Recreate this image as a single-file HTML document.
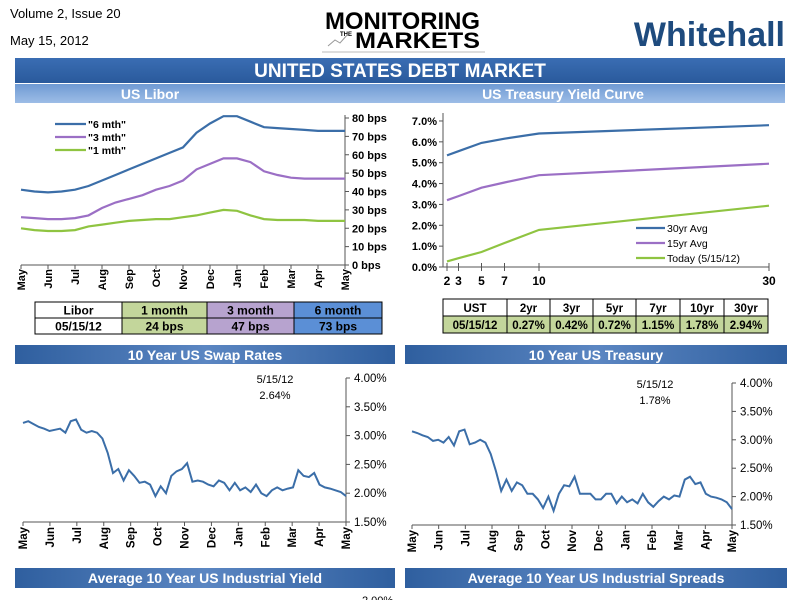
<!DOCTYPE html>
<html><head><meta charset="utf-8"><style>
body{margin:0;background:#fff;}
svg{display:block;font-family:"Liberation Sans",sans-serif;}
.b{font-weight:bold;}
</style></head><body>
<svg id="s" width="800" height="600" viewBox="0 0 800 600">
<defs>
<linearGradient id="gMain" x1="0" y1="0" x2="0" y2="1"><stop offset="0" stop-color="#3a6db3"/><stop offset="1" stop-color="#2a5a9c"/></linearGradient>
<linearGradient id="gSub" x1="0" y1="0" x2="0" y2="1"><stop offset="0" stop-color="#6f9ad3"/><stop offset="1" stop-color="#9dbde6"/></linearGradient>
<linearGradient id="gSec" x1="0" y1="0" x2="1" y2="0"><stop offset="0" stop-color="#2f5f9f"/><stop offset="0.5" stop-color="#5b86c2"/><stop offset="1" stop-color="#2f5f9f"/></linearGradient>
</defs>
<text x="10" y="18" font-size="13">Volume 2, Issue 20</text>
<text x="10" y="45" font-size="13">May 15, 2012</text>
<g>
<text x="325" y="29" font-size="24" class="b" textLength="155" lengthAdjust="spacingAndGlyphs">MONITORING</text>
<text x="340" y="36" font-size="6" class="b">THE</text>
<text x="355" y="48" font-size="22" class="b" textLength="125" lengthAdjust="spacingAndGlyphs">MARKETS</text>
<polyline points="328,46 335,40 340,43 348,34" fill="none" stroke="#999" stroke-width="1"/>
<line x1="322" y1="52" x2="485" y2="52" stroke="#bbb"/>
</g>
<text x="785" y="46" font-size="34" class="b" fill="#1e4b7e" text-anchor="end">Whitehall</text>
<rect x="15" y="58" width="770" height="25" fill="url(#gMain)"/>
<text x="400" y="77" font-size="19" class="b" fill="#fff" text-anchor="middle">UNITED STATES DEBT MARKET</text>
<rect x="15" y="84" width="770" height="19" fill="url(#gSub)"/>
<text x="150" y="99" font-size="14" class="b" fill="#fff" text-anchor="middle">US Libor</text>
<text x="563" y="99" font-size="14" class="b" fill="#fff" text-anchor="middle">US Treasury Yield Curve</text>
<rect x="15" y="345" width="380" height="19" fill="url(#gSec)"/>
<text x="205" y="360" font-size="14" class="b" fill="#fff" text-anchor="middle">10 Year US Swap Rates</text>
<rect x="405" y="345" width="382" height="19" fill="url(#gSec)"/>
<text x="596" y="360" font-size="14" class="b" fill="#fff" text-anchor="middle">10 Year US Treasury</text>
<rect x="15" y="568" width="380" height="20" fill="url(#gSec)"/>
<text x="205" y="583" font-size="14" class="b" fill="#fff" text-anchor="middle">Average 10 Year US Industrial Yield</text>
<rect x="405" y="568" width="382" height="20" fill="url(#gSec)"/>
<text x="596" y="583" font-size="14" class="b" fill="#fff" text-anchor="middle">Average 10 Year US Industrial Spreads</text>
<text x="362" y="604" font-size="11">2.00%</text>
<g id="libG"></g><g id="ycG"></g><g id="swG"></g><g id="tsG"></g>
</svg>
<script>
const months=['May','Jun','Jul','Aug','Sep','Oct','Nov','Dec','Jan','Feb','Mar','Apr','May'];
const liborTicks=['0 bps','10 bps','20 bps','30 bps','40 bps','50 bps','60 bps','70 bps','80 bps'];
const libor6=[41,40,39.5,40,41,43,46,49,52,55,58,61,64,72,77,81,81,78,75,74.5,74,73.5,73,73,73];
const libor3=[26,25.5,25,25,25.5,27,31,34,36,38,41,43,46,52,55,58,58,56,51,49,47.5,47,47,47,47];
const libor1=[20,19,18.5,18.5,19,21,22,23,24,24.5,25,25,26,27,28.5,30,29.5,27,25,24.5,24.5,24.5,24,24,24];
const liborHead=['Libor','1 month','3 month','6 month'];
const liborRow=['05/15/12','24 bps','47 bps','73 bps'];
const ycTenors=[2,3,5,7,10,30];
const yc30=[5.35,5.55,5.95,6.15,6.4,6.8];
const yc15=[3.2,3.4,3.8,4.05,4.4,4.95];
const ycToday=[0.27,0.42,0.72,1.15,1.78,2.94];
const ycTicks=[0,1,2,3,4,5,6,7];
const ustHead=['UST','2yr','3yr','5yr','7yr','10yr','30yr'];
const ustRow=['05/15/12','0.27%','0.42%','0.72%','1.15%','1.78%','2.94%'];
const rateTicks=[1.5,2,2.5,3,3.5,4];
const swapVals=[3.22,3.25,3.20,3.15,3.12,3.08,3.10,3.12,3.05,3.25,3.28,3.10,3.05,3.08,3.05,2.95,2.70,2.35,2.42,2.22,2.40,2.30,2.18,2.20,2.15,1.95,2.12,2.00,2.30,2.38,2.42,2.52,2.20,2.22,2.20,2.15,2.12,2.22,2.18,2.05,2.18,2.05,2.10,2.02,2.15,2.00,1.95,2.05,2.10,2.05,2.08,2.10,2.40,2.30,2.28,2.35,2.15,2.10,2.08,2.05,2.02,1.95];
const tsyVals=[3.15,3.12,3.08,3.05,2.98,3.00,2.95,3.05,2.90,3.15,3.18,2.92,2.95,3.00,2.95,2.75,2.45,2.10,2.30,2.10,2.25,2.20,2.05,2.05,1.95,1.80,2.00,1.75,2.05,2.20,2.18,2.35,2.05,2.05,2.05,1.95,1.95,2.05,2.05,1.88,2.00,1.90,1.95,1.88,2.05,1.90,1.82,1.92,2.00,1.95,2.02,2.00,2.30,2.35,2.22,2.25,2.05,2.00,1.98,1.95,1.90,1.78];

const NS='http://www.w3.org/2000/svg';
function mk(parent,tag,attrs,txt){const e=document.createElementNS(NS,tag);for(const k in attrs)e.setAttribute(k,attrs[k]);if(txt!==undefined)e.textContent=txt;parent.appendChild(e);return e;}
function pts(vals,fx,fy){return vals.map((v,i)=>fx(i).toFixed(1)+','+fy(v).toFixed(1)).join(' ');}

// ---- Libor
const lib=document.getElementById('libG');
const libX=i=>21+i*324/(libor6.length-1), libY=v=>265-v*1.8375, mX=i=>21+i*27;
let a=mk(lib,'line',{x1:345,y1:libY(80)-3,x2:345,y2:265,stroke:'#555'});


a=mk(lib,'line',{x1:21,y1:265,x2:345,y2:265,stroke:'#555'});


liborTicks.forEach((t,i)=>{const v=i*10;
 mk(lib,'line',{x1:345,y1:libY(v),x2:349,y2:libY(v),stroke:'#555'});
 const e=mk(lib,'text',{x:352,y:libY(v)+4,'font-size':11,'font-weight':'bold'},t);
 
 });
months.forEach((m,i)=>{
 mk(lib,'line',{x1:mX(i),y1:265,x2:mX(i),y2:269,stroke:'#555'});
 const e=mk(lib,'text',{x:0,y:0,'font-size':11,'font-weight':'bold','text-anchor':'end',transform:`translate(${mX(i)+4},269) rotate(-90)`},m);
 
 });
[[libor6,'#3b6ea8','6 mth'],[libor3,'#9b6fc5','3 mth'],[libor1,'#8fc441','1 mth']].forEach((s,k)=>{
 const p=mk(lib,'polyline',{points:pts(s[0],libX,libY),fill:'none',stroke:s[1],'stroke-width':2.2});
 
 
 const y=124+k*13;
 mk(lib,'line',{x1:55,y1:y,x2:86,y2:y,stroke:s[1],'stroke-width':2.2});
 const t=mk(lib,'text',{x:88,y:y+4,'font-size':10.5,'font-weight':'bold'},'"'+s[2]+'"');
 
 });
const lc=[35,122,207,294,382], lfill=['#fff','#c3d69b','#b7a3cf','#5b8fd6'];
for(let c=0;c<4;c++){for(let r=0;r<2;r++){
 const y=302+r*16;
 const rc=mk(lib,'rect',{x:lc[c],y:y,width:lc[c+1]-lc[c],height:16,fill:lfill[c],stroke:'#000','stroke-width':1});
 
 
 const t=mk(lib,'text',{x:(lc[c]+lc[c+1])/2,y:y+12.5,'font-size':12,'font-weight':'bold','text-anchor':'middle'},r?liborRow[c]:liborHead[c]);
 
 }}

// ---- Yield curve
const yc=document.getElementById('ycG');
const ycX=t=>447+(t-2)*11.5, ycY=v=>267-v*20.86;
a=mk(yc,'line',{x1:443,y1:ycY(7)-8,x2:443,y2:267,stroke:'#555'});


a=mk(yc,'line',{x1:443,y1:267,x2:769,y2:267,stroke:'#555'});


ycTicks.forEach(v=>{mk(yc,'line',{x1:439,y1:ycY(v),x2:443,y2:ycY(v),stroke:'#555'});
 const e=mk(yc,'text',{x:437,y:ycY(v)+4,'font-size':11,'font-weight':'bold','text-anchor':'end'},v.toFixed(1)+'%');
 
 });
ycTenors.forEach(t=>{mk(yc,'line',{x1:ycX(t),y1:263,x2:ycX(t),y2:271,stroke:'#555'});
 const e=mk(yc,'text',{x:ycX(t),y:285,'font-size':12,'font-weight':'bold','text-anchor':'middle'},String(t));
 
 });
[[yc30,'#3b6ea8','30yr Avg'],[yc15,'#9b6fc5','15yr Avg'],[ycToday,'#8fc441','Today (5/15/12)']].forEach((s,k)=>{
 const p=mk(yc,'polyline',{points:s[0].map((v,i)=>ycX(ycTenors[i]).toFixed(1)+','+ycY(v).toFixed(1)).join(' '),fill:'none',stroke:s[1],'stroke-width':2.2});
 
 
 const y=228+k*15;
 mk(yc,'line',{x1:636,y1:y,x2:665,y2:y,stroke:s[1],'stroke-width':2.2});
 const t=mk(yc,'text',{x:667,y:y+4,'font-size':10.5},s[2]);
 
 });
const uc=[443,507,550,593,636,680,724,768];
for(let c=0;c<7;c++){for(let r=0;r<2;r++){
 const y=299+r*17;
 const rc=mk(yc,'rect',{x:uc[c],y:y,width:uc[c+1]-uc[c],height:17,fill:r?'#c3d69b':'#fff',stroke:'#000','stroke-width':1});
 
 
 const t=mk(yc,'text',{x:(uc[c]+uc[c+1])/2,y:y+13,'font-size':11.5,'font-weight':'bold','text-anchor':'middle'},r?ustRow[c]:ustHead[c]);
 
 }}

// ---- Rate charts
function rateChart(g,vals,x0,x1,yTop,yBot,ann,annX,prefix){
 const fx=i=>x0+i*(x1-x0)/(vals.length-1), fy=v=>yBot-(v-1.5)*(yBot-yTop)/2.5;
 let e=mk(g,'line',{x1:x1,y1:yTop,x2:x1,y2:yBot,stroke:'#555'});
 
 
 e=mk(g,'line',{x1:x0,y1:yBot,x2:x1,y2:yBot,stroke:'#555'});
 
 
 rateTicks.forEach(v=>{mk(g,'line',{x1:x1,y1:fy(v),x2:x1+4,y2:fy(v),stroke:'#555'});
  const t=mk(g,'text',{x:x1+8,y:fy(v)+4,'font-size':11.5},v.toFixed(2)+'%');
  
  });
 months.forEach((m,i)=>{const x=x0+i*(x1-x0)/12;
  mk(g,'line',{x1:x,y1:yBot,x2:x,y2:yBot+4,stroke:'#555'});
  const t=mk(g,'text',{x:0,y:0,'font-size':11.5,'font-weight':'bold','text-anchor':'end',transform:`translate(${x+4},${yBot+5}) rotate(-90)`},m);
  
  });
 const p=mk(g,'polyline',{points:pts(vals,fx,fy),fill:'none',stroke:'#3b6ea8','stroke-width':2});
 
 
 let t=mk(g,'text',{x:annX,y:yTop+5,'font-size':11,'text-anchor':'middle'},'5/15/12');
 
 
 t=mk(g,'text',{x:annX,y:yTop+21,'font-size':11,'text-anchor':'middle'},ann);
 
 
}
rateChart(document.getElementById('swG'),swapVals,23,346,378,522,'2.64%',275,'swap');
rateChart(document.getElementById('tsG'),tsyVals,412,732,383,525,'1.78%',655,'treasury');
</script>
</body></html>
